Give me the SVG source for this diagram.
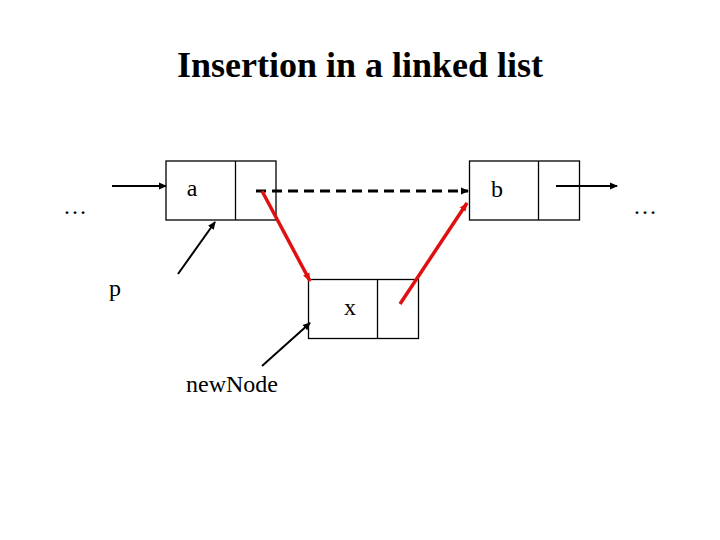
<svg xmlns="http://www.w3.org/2000/svg" width="720" height="540" viewBox="0 0 720 540">
<style>
.box{fill:#fff;stroke:#000;stroke-width:1.3}
.k{stroke:#000;stroke-width:2;fill:none}
.r{stroke:#e01010;stroke-width:3.5;fill:none}
</style>
<defs>
<marker id="ah" markerWidth="8" markerHeight="8" refX="7" refY="4" orient="auto" markerUnits="userSpaceOnUse"><path d="M0,0.5 L8,4 L0,7.5 z" fill="#000"/></marker>
<marker id="ar" markerWidth="9" markerHeight="9" refX="8" refY="4.5" orient="auto" markerUnits="userSpaceOnUse"><path d="M0,1 L9,4.5 L0,8 z" fill="#e01010"/></marker>
</defs>
<rect width="720" height="540" fill="#fff"/>
<text x="360" y="77" text-anchor="middle" font-family="'Liberation Serif', serif" font-weight="bold" font-size="36">Insertion in a linked list</text>
<g font-family="'Liberation Serif', 'Times New Roman', serif" font-size="24" fill="#000">
<g id="node-a"><rect class="box" x="166" y="161" width="110" height="59"/><line class="box" x1="235.5" y1="161" x2="235.5" y2="220"/><text x="192" y="196" text-anchor="middle">a</text></g>
<g id="node-b"><rect class="box" x="469.5" y="161" width="110" height="59"/><line class="box" x1="538.5" y1="161" x2="538.5" y2="220"/><text x="497" y="197" text-anchor="middle">b</text></g>
<g id="node-x"><rect class="box" x="308.5" y="279.5" width="110" height="59"/><line class="box" x1="377.5" y1="279.5" x2="377.5" y2="338.5"/><text x="350" y="315" text-anchor="middle">x</text></g>
<g id="label-p"><text x="115" y="296" text-anchor="middle">p</text></g>
<g id="label-newNode"><text x="232" y="392" text-anchor="middle">newNode</text></g>
<g id="ellipsis-left"><text x="75" y="214" text-anchor="middle">…</text></g>
<g id="ellipsis-right"><text x="645" y="214" text-anchor="middle">…</text></g>
</g>
<g id="connectors">
<line class="k" x1="112" y1="186" x2="166" y2="186" marker-end="url(#ah)"/>
<line class="k" x1="556" y1="186" x2="617" y2="186" marker-end="url(#ah)"/>
<line class="k" x1="178" y1="274" x2="215" y2="222" marker-end="url(#ah)"/>
<line class="k" x1="262" y1="366" x2="310" y2="323" marker-end="url(#ah)"/>
<line x1="256" y1="191" x2="468" y2="191" stroke="#000" stroke-width="3" stroke-dasharray="10,6" marker-end="url(#ah)"/>
<line class="r" x1="262" y1="191" x2="310" y2="281" marker-end="url(#ar)"/>
<line class="r" x1="400" y1="304" x2="467" y2="203" marker-end="url(#ar)"/>
</g>
</svg>
